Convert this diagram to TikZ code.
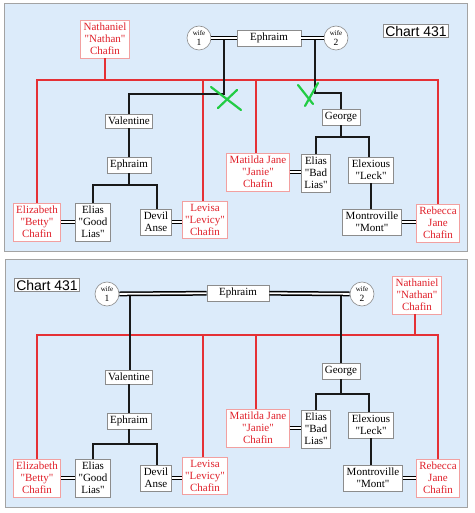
\documentclass[tikz,border=0pt]{standalone}
\usepackage{fontspec}
\setmainfont{Liberation Serif}
\newfontfamily\chartfont{Liberation Sans}
\definecolor{bgblue}{HTML}{DCEBFA}
\definecolor{redtxt}{HTML}{E0202A}
\definecolor{redln}{HTML}{E53035}
\definecolor{redbd}{HTML}{F2A0A0}
\definecolor{graybd}{HTML}{8C8C8C}
\definecolor{xgreen}{HTML}{22CC44}
\newcommand{\qq}{\textquotedbl}
\tikzset{
  pbox/.style={draw=graybd, fill=white, font=\fontsize{11}{12}\selectfont, align=center, inner xsep=3pt, inner ysep=3pt, line width=0.6pt},
  rbox/.style={pbox, draw=redbd, text=redtxt},
  wife/.style={circle, draw=graybd, fill=white, minimum size=24pt, inner sep=0pt, align=center, line width=0.6pt},
  kid/.style={line width=1.7pt, draw=black!90},
  rline/.style={line width=1.5pt, draw=redln},
  marr/.style={draw=black, line width=1.5pt, double=white, double distance=1.8pt},
  cross/.style={draw=xgreen, line width=2.2pt, line cap=round},
  panel/.style={draw=graybd!80, fill=bgblue, line width=0.8pt},
  chart/.style={draw=graybd, fill=white, font=\chartfont\fontsize{14}{14}\selectfont, inner xsep=2pt, inner ysep=1.5pt, line width=0.6pt}
}
\newcommand{\wifetxt}[1]{{\fontsize{7}{7}\selectfont wife}\\[-1.5pt]{\fontsize{9.5}{9.5}\selectfont #1}}
\begin{document}
\begin{tikzpicture}[x=1pt,y=-1pt]
\useasboundingbox (0,0) rectangle (474,513);
% panels
\path[panel] (4.5,3.5) rectangle (467,251);
\path[panel] (5,259) rectangle (467,507);

%================ TOP PANEL =================
\node[chart] (chart1) at (416,31) {Chart 431};
\node[wife] (w1a) at (199,38) {\wifetxt{1}};
\node[pbox, minimum width=64pt] (eph1a) at (269,38) {Ephraim};
\node[wife] (w2a) at (336,38) {\wifetxt{2}};
\node[rbox] (nat1) at (105,39) {Nathaniel\\\qq Nathan\qq\\Chafin};

\node[pbox] (val1) at (129,121) {Valentine};
\node[pbox] (ephb1) at (129,165) {Ephraim};
\node[pbox] (eliasG1) at (93,222) {Elias\\\qq Good\\Lias\qq};
\node[pbox] (devil1) at (156,222) {Devil\\Anse};
\node[rbox] (eliz1) at (37,222) {Elizabeth\\\qq Betty\qq\\Chafin};
\node[rbox] (levisa1) at (205,220) {Levisa\\\qq Levicy\qq\\Chafin};
\node[pbox] (george1) at (341,117) {George};
\node[rbox] (matilda1) at (258,172) {Matilda Jane\\\qq Janie\qq\\Chafin};
\node[pbox] (eliasB1) at (316,173) {Elias\\\qq Bad\\Lias\qq};
\node[pbox] (elex1) at (371,170) {Elexious\\\qq Leck\qq};
\node[pbox] (mont1) at (372,222) {Montroville\\\qq Mont\qq};
\node[rbox] (rebecca1) at (438,223) {Rebecca\\Jane\\Chafin};

\coordinate (busA) at (0,80);
\coordinate (mA1) at (224,38);
\coordinate (mA2) at (315,38);
% red lines
\draw[rline] (nat1.south) -- (nat1.south |- busA);
\draw[rline] (eliz1.north) -- (eliz1.north |- busA) -- (rebecca1.north |- busA) -- (rebecca1.north);
\draw[rline] ([xshift=-2pt]levisa1.north) -- ([xshift=-2pt]levisa1.north |- busA);
\draw[rline] ([xshift=-2pt]matilda1.north) -- ([xshift=-2pt]matilda1.north |- busA);
% descent lines
\draw[kid] (mA1) -- ++(0,56) -| (val1.north);
\draw[kid] (mA2) -- ++(0,55) -| (george1.north);
\draw[kid] (val1) -- (ephb1);
\draw[kid] (ephb1.south) -- ++(0,12) coordinate (jA1);
\draw[kid] (eliasG1.north) |- (jA1) -| ([xshift=1pt]devil1.north);
\draw[kid] (george1.south) -- ++(0,12) coordinate (jA2);
\draw[kid] (eliasB1.north) |- (jA2) -| ([xshift=-2pt]elex1.north);
\draw[kid] (elex1) -- (elex1 |- mont1.north);
% marriages
\draw[marr] (w1a) -- (eph1a);
\draw[marr] (eph1a) -- (w2a);
\draw[marr] (eliz1.east) -- (eliz1.east -| eliasG1.west);
\draw[marr] (devil1.east) -- (devil1.east -| levisa1.west);
\draw[marr] (matilda1.east) -- (matilda1.east -| eliasB1.west);
\draw[marr] (mont1.east) -- (mont1.east -| rebecca1.west);
% green crosses
\draw[cross] (211,87) -- (241,110);
\draw[cross] (218,108) -- (237,90);
\draw[cross] (298,85) -- (313,104);
\draw[cross] (305,106) -- (318,83);

%================ BOTTOM PANEL =================
\node[chart] (chart2) at (47,285) {Chart 431};
\node[wife] (w1b) at (107,294) {\wifetxt{1}};
\node[pbox, minimum width=62pt] (eph2a) at (238,293) {Ephraim};
\node[wife] (w2b) at (362,294) {\wifetxt{2}};
\node[rbox] (nat2) at (417,295) {Nathaniel\\\qq Nathan\qq\\Chafin};

\node[pbox] (val2) at (129,377) {Valentine};
\node[pbox] (ephb2) at (129,421) {Ephraim};
\node[pbox] (eliasG2) at (93,478) {Elias\\\qq Good\\Lias\qq};
\node[pbox] (devil2) at (156,478) {Devil\\Anse};
\node[rbox] (eliz2) at (37,478) {Elizabeth\\\qq Betty\qq\\Chafin};
\node[rbox] (levisa2) at (205,476) {Levisa\\\qq Levicy\qq\\Chafin};
\node[pbox] (george2) at (341,371) {George};
\node[rbox] (matilda2) at (258,428) {Matilda Jane\\\qq Janie\qq\\Chafin};
\node[pbox] (eliasB2) at (316,429) {Elias\\\qq Bad\\Lias\qq};
\node[pbox] (elex2) at (371,425) {Elexious\\\qq Leck\qq};
\node[pbox] (mont2) at (373,478) {Montroville\\\qq Mont\qq};
\node[rbox] (rebecca2) at (438,478) {Rebecca\\Jane\\Chafin};

\coordinate (busB) at (0,335);
\coordinate (mB1) at (130,294);
\coordinate (mB2) at (341,294);
% red lines
\draw[rline] ([xshift=-2pt]nat2.south) -- ([xshift=-2pt]nat2.south |- busB);
\draw[rline] (eliz2.north) -- (eliz2.north |- busB) -- (rebecca2.north |- busB) -- (rebecca2.north);
\draw[rline] ([xshift=-2pt]levisa2.north) -- ([xshift=-2pt]levisa2.north |- busB);
\draw[rline] ([xshift=-2pt]matilda2.north) -- ([xshift=-2pt]matilda2.north |- busB);
% descent lines
\draw[kid] (mB1) -- (mB1 |- val2.north);
\draw[kid] (mB2) -- (mB2 |- george2.north);
\draw[kid] (val2) -- (ephb2);
\draw[kid] (ephb2.south) -- ++(0,15) coordinate (jB1);
\draw[kid] (eliasG2.north) |- (jB1) -| ([xshift=1pt]devil2.north);
\draw[kid] (george2.south) -- ++(0,15) coordinate (jB2);
\draw[kid] (eliasB2.north) |- (jB2) -| ([xshift=-2pt]elex2.north);
\draw[kid] (elex2) -- (elex2 |- mont2.north);
% marriages
\draw[marr] (w1b) -- (eph2a);
\draw[marr] (eph2a) -- (w2b);
\draw[marr] (eliz2.east) -- (eliz2.east -| eliasG2.west);
\draw[marr] (devil2.east) -- (devil2.east -| levisa2.west);
\draw[marr] (matilda2.east) -- (matilda2.east -| eliasB2.west);
\draw[marr] (mont2.east) -- (mont2.east -| rebecca2.west);
\end{tikzpicture}
\end{document}
